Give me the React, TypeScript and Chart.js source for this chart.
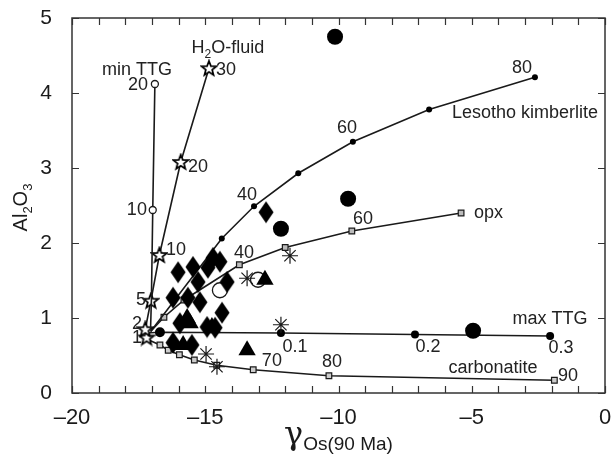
import React, { useEffect, useRef } from "react";
import { Chart, registerables } from "chart.js";

Chart.register(...registerables);

const FONT = '"Liberation Sans", Arial, Helvetica, sans-serif';
const INK = "#1a1a1a";

// ---- axis ticks ----
const xMajorTicks = [-20, -15, -10, -5, 0];
const xMinorTicks = [-20, -19, -18, -17, -16, -15, -14, -13, -12, -11, -10, -9, -8, -7, -6, -5, -4, -3, -2, -1, 0];
const yMajorTicks = [0, 1, 2, 3, 4, 5];

// ---- model curves ----
const minTTGx = [-16.89, -16.97, -17.02, -17.05];
const minTTGy = [4.12, 2.44, 1.25, 0.88];
const minTTGr = [3.5, 3.5, 0, 0];

const h2oX = [-17.2, -17.25, -17.04, -16.72, -15.92, -14.86];
const h2oY = [0.74, 0.85, 1.23, 1.84, 3.08, 4.33];

const kimbX = [-17.05, -14.38, -13.17, -11.51, -9.46, -6.6, -2.63];
const kimbY = [0.82, 2.06, 2.49, 2.93, 3.35, 3.78, 4.21];
const kimbR = [0, 3, 3, 3, 3, 3, 3];

const opxX = [-17.05, -16.55, -15.8, -13.72, -12.0, -9.5, -5.4];
const opxY = [0.82, 1.01, 1.24, 1.71, 1.94, 2.16, 2.4];
const opxR = [0, 4, 4, 4, 4, 4, 4];

const carbX = [-17.2, -16.7, -16.39, -15.97, -15.41, -14.57, -13.2, -10.36, -1.9];
const carbY = [0.72, 0.64, 0.57, 0.51, 0.44, 0.37, 0.31, 0.23, 0.17];
const carbR = [0, 4, 4, 4, 4, 4, 4, 4, 4];

const maxTTGx = [-17.2, -16.7, -12.16, -7.13, -2.06];
const maxTTGy = [0.8, 0.81, 0.8, 0.78, 0.76];
const maxTTGr = [0, 5, 4, 4, 4];

// ---- samples ----
const diamondX = [-16.02, -15.46, -14.71, -14.45, -14.9, -15.27, -14.18, -16.21, -15.65, -15.2, -14.37, -15.95, -14.93, -14.63, -16.21, -15.5, -12.72];
const diamondY = [1.61, 1.68, 1.8, 1.75, 1.67, 1.48, 1.48, 1.27, 1.27, 1.21, 1.07, 0.93, 0.88, 0.87, 0.67, 0.64, 2.41];

const triangleX = [-12.76, -13.43, -15.68, -15.57, -14.75, -15.83];
const triangleY = [1.51, 0.57, 1.0, 0.93, 0.88, 0.64];

const bigDotX = [-10.13, -9.64, -12.16, -4.95];
const bigDotY = [4.75, 2.59, 2.19, 0.83];

const openDotX = [-14.45, -13.02];
const openDotY = [1.37, 1.51];

const asteriskX = [-11.82, -12.16, -13.43, -14.97, -14.56];
const asteriskY = [1.83, 0.91, 1.53, 0.52, 0.35];

// ---- in-plot annotations ----
const labelText = ["min TTG", "20", "10", "30", "20", "10", "5", "2", "1", "40", "60", "80", "Lesotho kimberlite", "40", "60", "opx", "max TTG", "0.1", "0.2", "0.3", "70", "80", "90", "carbonatite"];
const labelX = [-17.56, -17.15, -17.19, -14.6, -15.65, -16.47, -17.22, -17.37, -17.37, -13.43, -9.68, -3.11, -5.74, -13.55, -9.08, -4.92, -2.06, -11.63, -6.64, -1.65, -12.5, -10.24, -1.39, -4.2];
const labelY = [4.31, 4.11, 2.44, 4.31, 3.01, 1.91, 1.24, 0.92, 0.73, 2.64, 3.53, 4.33, 3.73, 1.87, 2.32, 2.4, 0.99, 0.61, 0.61, 0.6, 0.43, 0.41, 0.23, 0.33];
const labelAlign = ["center", "right", "right", "left", "left", "left", "right", "right", "right", "center", "center", "center", "left", "center", "center", "left", "center", "center", "center", "center", "center", "center", "center", "center"];

const h2oTitleX = -14.15;
const h2oTitleY = 4.61;

const pts = (xs: number[], ys: number[]) => xs.map((x, i) => ({ x, y: ys[i] }));

type Part = { t: string; size: number; dy: number; family?: string };

function drawRich(ctx: CanvasRenderingContext2D, parts: Part[], cx: number, cy: number) {
  let total = 0;
  const widths = parts.map((p) => {
    ctx.font = `${p.size}px ${p.family || FONT}`;
    const w = ctx.measureText(p.t).width;
    total += w;
    return w;
  });
  let x = cx - total / 2;
  ctx.textAlign = "left";
  ctx.textBaseline = "alphabetic";
  parts.forEach((p, i) => {
    ctx.font = `${p.size}px ${p.family || FONT}`;
    ctx.fillText(p.t, x, cy + p.dy);
    x += widths[i];
  });
}

function makeStar(): HTMLCanvasElement {
  const c = document.createElement("canvas");
  c.width = 18;
  c.height = 18;
  const g = c.getContext("2d")!;
  const R = 7.8, r = 3.3, cx = 9, cy = 9.5;
  g.beginPath();
  for (let i = 0; i < 10; i++) {
    const rad = i % 2 === 0 ? R : r;
    const a = -Math.PI / 2 + (i * Math.PI) / 5;
    const px = cx + rad * Math.cos(a);
    const py = cy + rad * Math.sin(a);
    if (i === 0) g.moveTo(px, py);
    else g.lineTo(px, py);
  }
  g.closePath();
  g.fillStyle = "#fff";
  g.fill();
  g.lineWidth = 1.7;
  g.strokeStyle = "#000";
  g.stroke();
  return c;
}

function makeDiamond(): HTMLCanvasElement {
  const c = document.createElement("canvas");
  c.width = 16;
  c.height = 23;
  const g = c.getContext("2d")!;
  g.beginPath();
  g.moveTo(8, 0.5);
  g.lineTo(15.5, 11.5);
  g.lineTo(8, 22.5);
  g.lineTo(0.5, 11.5);
  g.closePath();
  g.fillStyle = "#000";
  g.fill();
  return c;
}

const framePlugin = {
  id: "frame",
  afterDatasetsDraw(chart: any) {
    const { ctx, scales } = chart;
    const xs = scales.x, ys = scales.y;
    ctx.save();
    ctx.fillStyle = "#222";
    ctx.textBaseline = "middle";
    ctx.font = `18px ${FONT}`;
    labelText.forEach((t, i) => {
      ctx.textAlign = labelAlign[i];
      ctx.fillText(t, xs.getPixelForValue(labelX[i]), ys.getPixelForValue(labelY[i]));
    });
    drawRich(
      ctx,
      [
        { t: "H", size: 18, dy: 0 },
        { t: "2", size: 12, dy: 5 },
        { t: "O-fluid", size: 18, dy: 0 },
      ],
      xs.getPixelForValue(h2oTitleX),
      ys.getPixelForValue(h2oTitleY) + 6
    );
    ctx.restore();
  },
  afterDraw(chart: any) {
    const { ctx, chartArea: a, scales } = chart;
    const xs = scales.x, ys = scales.y;
    ctx.save();
    ctx.strokeStyle = "#333";
    ctx.lineWidth = 1.5;
    ctx.strokeRect(a.left, a.top, a.right - a.left, a.bottom - a.top);
    ctx.lineWidth = 1.2;
    ctx.beginPath();
    xMinorTicks.forEach((v) => {
      const p = Math.round(xs.getPixelForValue(v)) + 0.5;
      ctx.moveTo(p, a.bottom);
      ctx.lineTo(p, a.bottom - 7);
      ctx.moveTo(p, a.top);
      ctx.lineTo(p, a.top + 7);
    });
    yMajorTicks.forEach((v) => {
      const p = Math.round(ys.getPixelForValue(v)) + 0.5;
      ctx.moveTo(a.left, p);
      ctx.lineTo(a.left + 7, p);
      ctx.moveTo(a.right, p);
      ctx.lineTo(a.right - 7, p);
    });
    ctx.stroke();

    ctx.fillStyle = INK;
    // x title: gamma Os(90 Ma)
    drawRich(
      ctx,
      [
        { t: "\u03b3", size: 32, dy: 0, family: '"DejaVu Serif", serif' },
        { t: "Os(90 Ma)", size: 19, dy: 6 },
      ],
      (a.left + a.right) / 2,
      444
    );
    // y title: Al2O3 rotated
    ctx.save();
    ctx.translate(27, (a.top + a.bottom) / 2 + 2);
    ctx.rotate(-Math.PI / 2);
    drawRich(
      ctx,
      [
        { t: "Al", size: 20, dy: 0 },
        { t: "2", size: 13, dy: 5 },
        { t: "O", size: 20, dy: 0 },
        { t: "3", size: 13, dy: 5 },
      ],
      0,
      0
    );
    ctx.restore();
    ctx.restore();
  },
};

export default function App() {
  const ref = useRef<HTMLCanvasElement | null>(null);

  useEffect(() => {
    document.body.style.margin = "0";
    const canvas = ref.current;
    if (!canvas) return;
    const star = makeStar();
    const diamond = makeDiamond();

    const lineBase = {
      showLine: true,
      borderColor: INK,
      borderWidth: 1.6,
      tension: 0,
      order: 10,
    };

    const chart = new Chart(canvas, {
      type: "scatter",
      data: {
        datasets: [
          { ...lineBase, label: "min TTG", data: pts(minTTGx, minTTGy), pointStyle: "circle", pointRadius: minTTGr, pointBackgroundColor: "#fff", pointBorderColor: INK, pointBorderWidth: 1.3 },
          { ...lineBase, label: "H2O-fluid", data: pts(h2oX, h2oY), pointStyle: star as any, pointRadius: 8 },
          { ...lineBase, label: "Lesotho kimberlite", data: pts(kimbX, kimbY), pointStyle: "circle", pointRadius: kimbR, pointBackgroundColor: "#000", pointBorderColor: "#000", pointBorderWidth: 0 },
          { ...lineBase, label: "opx", data: pts(opxX, opxY), pointStyle: "rect", pointRadius: opxR, pointBackgroundColor: "#bbb", pointBorderColor: INK, pointBorderWidth: 1.2 },
          { ...lineBase, label: "carbonatite", data: pts(carbX, carbY), pointStyle: "rect", pointRadius: carbR, pointBackgroundColor: "#ccc", pointBorderColor: INK, pointBorderWidth: 1.2 },
          { ...lineBase, label: "max TTG", data: pts(maxTTGx, maxTTGy), pointStyle: "circle", pointRadius: maxTTGr, pointBackgroundColor: "#000", pointBorderColor: "#000", pointBorderWidth: 0 },
          { label: "diamonds", data: pts(diamondX, diamondY), pointStyle: diamond as any, pointRadius: 9, order: 1 },
          { label: "triangles", data: pts(triangleX, triangleY), pointStyle: "triangle", pointRadius: 10, pointBackgroundColor: "#000", pointBorderColor: "#000", pointBorderWidth: 0, order: 1 },
          { label: "open circles", data: pts(openDotX, openDotY), pointStyle: "circle", pointRadius: 7.5, pointBackgroundColor: "#fff", pointBorderColor: INK, pointBorderWidth: 1.3, order: 2 },
          { label: "big dots", data: pts(bigDotX, bigDotY), pointStyle: "circle", pointRadius: 8, pointBackgroundColor: "#000", pointBorderColor: "#000", pointBorderWidth: 0, order: 1 },
          { label: "asterisks", data: pts(asteriskX, asteriskY), pointStyle: "star", pointRadius: 8, pointBackgroundColor: INK, pointBorderColor: INK, pointBorderWidth: 1.2, order: 0 },
        ],
      },
      options: {
        animation: false,
        responsive: false,
        devicePixelRatio: 1,
        layout: { padding: { top: 18, right: 11, bottom: 0, left: 0 } },
        plugins: { legend: { display: false }, tooltip: { enabled: false } },
        scales: {
          x: {
            type: "linear",
            min: -20,
            max: 0,
            grid: { display: false },
            border: { display: false },
            afterBuildTicks: (s: any) => {
              s.ticks = xMajorTicks.map((v) => ({ value: v }));
            },
            ticks: {
              color: INK,
              font: { family: FONT, size: 22 },
              padding: 4,
              maxRotation: 0,
              callback: (v: any) => String(v).replace("-", "\u2013"),
            },
            afterFit: (s: any) => {
              s.height = 71;
              s.paddingLeft = 0;
              s.paddingRight = 0;
            },
          },
          y: {
            type: "linear",
            min: 0,
            max: 5,
            grid: { display: false },
            border: { display: false },
            afterBuildTicks: (s: any) => {
              s.ticks = yMajorTicks.map((v) => ({ value: v }));
            },
            ticks: {
              color: INK,
              font: { family: FONT, size: 21 },
              padding: 12,
            },
            afterFit: (s: any) => {
              s.width = 72;
              s.paddingTop = 0;
              s.paddingBottom = 0;
            },
          },
        },
      },
      plugins: [framePlugin],
    });
    return () => chart.destroy();
  }, []);

  return <canvas ref={ref} width={616} height={464} style={{ display: "block" }} />;
}
